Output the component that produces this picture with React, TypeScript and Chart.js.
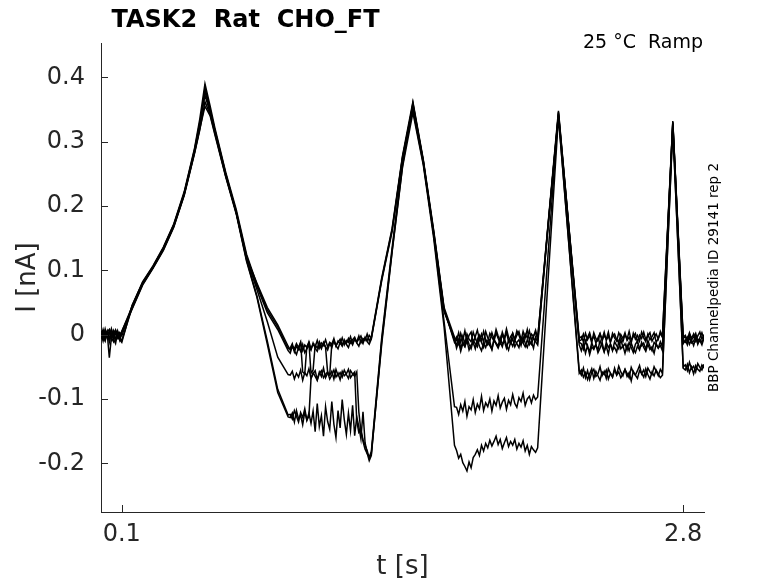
import { useEffect, useRef } from 'react';
import { Chart, registerables } from 'chart.js';

Chart.register(...registerables);

const TITLE = 'TASK2  Rat  CHO_FT';
const CONDITION = '25 °C  Ramp';
const SOURCE = 'BBP Channelpedia ID 29141 rep 2';

const X_TICKS = [0.1, 2.8];
const Y_TICKS = [-0.2, -0.1, 0, 0.1, 0.2, 0.3, 0.4];

// sample times [s]
const T = [
  0, 0.01, 0.02, 0.03, 0.04, 0.05, 0.06, 0.07, 0.08, 0.09, 0.1,
  0.15, 0.2, 0.25, 0.3, 0.35, 0.4, 0.45, 0.475, 0.5,
  0.525, 0.55, 0.6, 0.65, 0.7, 0.75, 0.8, 0.85, 0.9,
  0.91, 0.92, 0.93, 0.94, 0.95, 0.96, 0.97, 0.98, 0.99, 1.0,
  1.01, 1.02, 1.03, 1.04, 1.05, 1.06, 1.07, 1.08, 1.09, 1.1,
  1.11, 1.12, 1.13, 1.14, 1.15, 1.16, 1.17, 1.18, 1.19, 1.2,
  1.21, 1.22, 1.23, 1.24, 1.25, 1.26, 1.27, 1.28, 1.29, 1.3,
  1.35, 1.4, 1.45, 1.5, 1.55, 1.6, 1.65, 1.7,
  1.71, 1.72, 1.73, 1.74, 1.75, 1.76, 1.77, 1.78, 1.79, 1.8,
  1.81, 1.82, 1.83, 1.84, 1.85, 1.86, 1.87, 1.88, 1.89, 1.9,
  1.91, 1.92, 1.93, 1.94, 1.95, 1.96, 1.97, 1.98, 1.99, 2.0,
  2.01, 2.02, 2.03, 2.04, 2.05, 2.06, 2.07, 2.08, 2.09, 2.1,
  2.15, 2.2, 2.25, 2.3,
  2.31, 2.32, 2.33, 2.34, 2.35, 2.36, 2.37, 2.38, 2.39, 2.4,
  2.41, 2.42, 2.43, 2.44, 2.45, 2.46, 2.47, 2.48, 2.49, 2.5,
  2.51, 2.52, 2.53, 2.54, 2.55, 2.56, 2.57, 2.58, 2.59, 2.6,
  2.61, 2.62, 2.63, 2.64, 2.65, 2.66, 2.67, 2.68, 2.69, 2.7,
  2.725, 2.75, 2.775, 2.8,
  2.81, 2.82, 2.83, 2.84, 2.85, 2.86, 2.87, 2.88, 2.89, 2.9,
];

// current [nA], one array per sweep, aligned with T
const REP1 = [
  0.004, -0.006, 0.009, -0.003, 0.006, -0.008, 0.002, 0.007, -0.005, 0.003, -0.002,
  0.045, 0.082, 0.107, 0.136, 0.172, 0.222, 0.29, 0.335, 0.39,
  0.355, 0.318, 0.252, 0.195, 0.125, 0.078, 0.038, 0.012, -0.022,
  -0.021, -0.014, -0.027, -0.018, -0.023, -0.012, -0.025, -0.016, -0.02, -0.011,
  -0.022, -0.015, -0.019, -0.009, -0.021, -0.013, -0.017, -0.008, -0.019, -0.012,
  -0.015, -0.006, -0.018, -0.01, -0.014, -0.005, -0.016, -0.009, -0.012, -0.003,
  -0.014, -0.007, -0.011, -0.002, -0.013, -0.006, -0.009, 0.001, -0.01, -0.004,
  0.088, 0.165, 0.278, 0.362, 0.272, 0.162, 0.042, -0.004,
  -0.009, 0.003, -0.012, -0.002, -0.014, 0.001, -0.007, -0.011, 0.004, -0.006,
  -0.013, -0.001, -0.009, 0.005, -0.008, -0.012, 0.002, -0.004, -0.01, 0.003,
  -0.006, -0.013, 0.0, -0.008, 0.004, -0.011, -0.003, 0.002, -0.009, -0.001,
  0.005, -0.007, -0.012, 0.001, -0.005, 0.006, -0.008, -0.002, 0.003, -0.006,
  0.172, 0.348, 0.168, -0.006,
  -0.003, -0.011, 0.002, -0.008, -0.001, -0.013, 0.003, -0.006, -0.01, 0.001,
  -0.007, 0.004, -0.009, -0.002, -0.012, 0.002, -0.005, -0.01, 0.003, -0.004,
  -0.011, 0.0, -0.007, 0.005, -0.009, -0.003, 0.002, -0.012, -0.001, -0.006,
  0.004, -0.008, -0.002, 0.003, -0.01, -0.004, 0.001, -0.007, 0.005, -0.003,
  0.165, 0.332, 0.165, -0.004,
  -0.001, -0.009, 0.003, -0.006, 0.001, -0.01, -0.002, 0.004, -0.007, 0.0,
];

const REP2 = [
  -0.003, 0.008, -0.005, 0.002, -0.036, -0.004, 0.006, -0.009, 0.004, -0.002, 0.005,
  0.041, 0.078, 0.104, 0.133, 0.169, 0.218, 0.284, 0.322, 0.384,
  0.35, 0.314, 0.249, 0.192, 0.122, 0.075, 0.034, 0.008, -0.025,
  -0.029, -0.018, -0.025, -0.031, -0.02, -0.026, -0.015, -0.028, -0.022, -0.017,
  -0.024, -0.013, -0.021, -0.026, -0.016, -0.022, -0.012, -0.019, -0.024, -0.014,
  -0.02, -0.01, -0.017, -0.022, -0.012, -0.018, -0.008, -0.015, -0.02, -0.01,
  -0.016, -0.006, -0.013, -0.018, -0.008, -0.014, -0.004, -0.011, -0.015, -0.007,
  0.084, 0.16, 0.274, 0.358, 0.268, 0.158, 0.038, -0.009,
  -0.016, -0.007, -0.021, -0.011, -0.018, -0.005, -0.015, -0.022, -0.009, -0.014,
  -0.019, -0.006, -0.012, -0.02, -0.008, -0.016, -0.011, -0.023, -0.007, -0.013,
  -0.018, -0.004, -0.015, -0.01, -0.021, -0.009, -0.014, -0.006, -0.019, -0.012,
  -0.008, -0.017, -0.003, -0.013, -0.02, -0.009, -0.015, -0.005, -0.011, -0.016,
  0.168, 0.344, 0.164, -0.012,
  -0.014, -0.023, -0.01, -0.019, -0.026, -0.013, -0.021, -0.016, -0.024, -0.009,
  -0.018, -0.027, -0.012, -0.02, -0.015, -0.025, -0.011, -0.017, -0.022, -0.008,
  -0.019, -0.014, -0.024, -0.012, -0.02, -0.028, -0.015, -0.01, -0.021, -0.017,
  -0.013, -0.023, -0.009, -0.018, -0.025, -0.012, -0.016, -0.021, -0.011, -0.019,
  0.16, 0.328, 0.16, -0.01,
  -0.012, -0.004, -0.015, -0.008, -0.017, -0.006, -0.013, -0.009, -0.016, -0.005,
];

const REP3 = [
  0.006, -0.002, -0.01, 0.004, 0.008, -0.005, -0.011, 0.003, -0.004, -0.008, -0.012,
  0.046, 0.081, 0.106, 0.135, 0.171, 0.22, 0.288, 0.33, 0.372,
  0.345, 0.312, 0.247, 0.19, 0.12, 0.08, 0.042, 0.015, -0.018,
  -0.024, -0.017, -0.022, -0.014, -0.02, -0.012, -0.058, -0.061, -0.018, -0.013,
  -0.06, -0.055, -0.016, -0.021, -0.011, -0.019, -0.014, -0.02, -0.059, -0.062,
  -0.015, -0.009, -0.017, -0.012, -0.007, -0.016, -0.01, -0.014, -0.006, -0.013,
  -0.008, -0.004, -0.012, -0.007, -0.002, -0.011, -0.005, -0.009, -0.001, -0.006,
  0.086, 0.163, 0.276, 0.355, 0.27, 0.16, 0.04, -0.012,
  -0.004, -0.014, 0.002, -0.009, 0.006, -0.011, -0.001, 0.004, -0.013, -0.003,
  0.007, -0.008, 0.001, -0.012, 0.005, -0.005, -0.01, 0.003, -0.007, 0.008,
  -0.002, -0.011, 0.004, -0.006, 0.009, -0.004, -0.012, 0.002, -0.008, 0.006,
  -0.001, -0.01, 0.005, -0.005, 0.008, -0.009, 0.001, -0.003, 0.007, -0.006,
  0.17, 0.342, 0.166, -0.016,
  -0.025, -0.013, -0.029, -0.017, -0.031, -0.019, -0.023, -0.015, -0.028, -0.021,
  -0.012, -0.026, -0.018, -0.03, -0.014, -0.024, -0.02, -0.027, -0.011, -0.022,
  -0.017, -0.029, -0.016, -0.025, -0.013, -0.022, -0.028, -0.018, -0.024, -0.012,
  -0.02, -0.026, -0.015, -0.023, -0.019, -0.029, -0.014, -0.021, -0.017, -0.025,
  0.158, 0.33, 0.16, -0.014,
  -0.008, -0.016, -0.004, -0.013, -0.01, -0.002, -0.015, -0.007, -0.012, -0.005,
];

const REP4 = [
  -0.007, 0.004, -0.001, 0.006, -0.012, 0.002, -0.006, 0.007, 0.001, -0.009, 0.003,
  0.04, 0.077, 0.103, 0.131, 0.167, 0.216, 0.282, 0.318, 0.362,
  0.342, 0.31, 0.246, 0.19, 0.118, 0.07, 0.02, -0.035, -0.062,
  -0.063, -0.057, -0.069, -0.06, -0.066, -0.055, -0.071, -0.059, -0.064, -0.053,
  -0.068, -0.061, -0.056, -0.07, -0.058, -0.065, -0.052, -0.067, -0.06, -0.063,
  -0.057, -0.069, -0.054, -0.064, -0.059, -0.066, -0.055, -0.062, -0.068, -0.056,
  -0.061, -0.065, -0.058, -0.12, -0.15, -0.166, -0.178, -0.185, -0.19, -0.182,
  -0.005, 0.135, 0.268, 0.35, 0.266, 0.156, 0.036, -0.006,
  -0.021, -0.011, -0.026, -0.014, -0.019, -0.009, -0.024, -0.016, -0.012, -0.022,
  -0.007, -0.018, -0.025, -0.013, -0.02, -0.01, -0.017, -0.023, -0.008, -0.015,
  -0.021, -0.012, -0.019, -0.006, -0.016, -0.024, -0.011, -0.018, -0.009, -0.014,
  -0.02, -0.005, -0.013, -0.019, -0.008, -0.016, -0.011, -0.021, -0.004, -0.012,
  0.168, 0.34, 0.142, -0.056,
  -0.063, -0.052, -0.067, -0.056, -0.07, -0.059, -0.054, -0.065, -0.061, -0.05,
  -0.064, -0.057, -0.068, -0.053, -0.06, -0.066, -0.055, -0.062, -0.049, -0.058,
  -0.064, -0.054, -0.06, -0.067, -0.051, -0.059, -0.063, -0.056, -0.048, -0.061,
  -0.055, -0.065, -0.052, -0.058, -0.062, -0.05, -0.057, -0.064, -0.054, -0.06,
  0.135, 0.325, 0.138, -0.05,
  -0.047, -0.056, -0.043, -0.053, -0.049, -0.058, -0.045, -0.051, -0.055, -0.046,
];

const REP5 = [
  0.002, -0.01, 0.005, -0.004, 0.001, 0.008, -0.007, -0.014, 0.004, -0.003, 0.005,
  0.044, 0.08, 0.105, 0.134, 0.17, 0.219, 0.286, 0.326, 0.378,
  0.348, 0.315, 0.25, 0.19, 0.116, 0.06, -0.01, -0.085, -0.125,
  -0.124, -0.131, -0.118, -0.127, -0.136, -0.121, -0.129, -0.115, -0.133, -0.122,
  -0.138, -0.119, -0.151, -0.107, -0.143, -0.126, -0.158, -0.112, -0.135, -0.147,
  -0.104, -0.139, -0.16, -0.118, -0.145, -0.101, -0.132, -0.155, -0.122, -0.149,
  -0.11, -0.157, -0.128, -0.143, -0.162, -0.12, -0.168, -0.184, -0.196, -0.188,
  -0.01, 0.13, 0.262, 0.36, 0.27, 0.155, 0.02, -0.112,
  -0.113, -0.124, -0.109, -0.119, -0.104, -0.127, -0.112, -0.117, -0.101, -0.121,
  -0.108, -0.115, -0.096, -0.118, -0.106, -0.112, -0.1, -0.119, -0.103, -0.11,
  -0.095, -0.114, -0.105, -0.099, -0.116, -0.102, -0.109, -0.093, -0.107, -0.113,
  -0.098, -0.104, -0.091, -0.11, -0.1, -0.096, -0.106, -0.094, -0.101, -0.097,
  0.125, 0.346, 0.168, -0.01,
  -0.008, 0.001, -0.012, -0.004, 0.003, -0.009, -0.002, -0.013, -0.005, 0.002,
  -0.01, -0.001, -0.007, 0.004, -0.011, -0.003, 0.001, -0.008, -0.012, 0.0,
  -0.006, 0.003, -0.009, -0.004, -0.013, 0.002, -0.007, -0.001, -0.01, 0.004,
  -0.005, -0.011, 0.001, -0.008, -0.003, 0.003, -0.012, -0.006, 0.002, -0.004,
  0.162, 0.33, 0.162, -0.006,
  -0.003, -0.011, 0.001, -0.008, -0.004, 0.002, -0.01, -0.005, 0.003, -0.007,
];

const REP6 = [
  -0.004, 0.005, -0.008, 0.003, -0.006, 0.009, -0.002, -0.007, 0.006, -0.005, -0.009,
  0.042, 0.079, 0.104, 0.132, 0.168, 0.217, 0.283, 0.32, 0.355,
  0.34, 0.308, 0.245, 0.188, 0.114, 0.058, -0.015, -0.09, -0.128,
  -0.129, -0.122, -0.136, -0.118, -0.131, -0.125, -0.14, -0.12, -0.133, -0.127,
  -0.068, -0.059, -0.065, -0.071, -0.061, -0.056, -0.067, -0.062, -0.058, -0.069,
  -0.063, -0.055, -0.066, -0.06, -0.07, -0.057, -0.064, -0.061, -0.054, -0.067,
  -0.062, -0.058, -0.135, -0.152, -0.148, -0.163, -0.172, -0.18, -0.192, -0.186,
  -0.015, 0.128, 0.26, 0.345, 0.264, 0.15, 0.012, -0.172,
  -0.18, -0.192, -0.186, -0.199, -0.205, -0.212, -0.198, -0.207, -0.191, -0.186,
  -0.179, -0.188, -0.172, -0.181, -0.169, -0.176, -0.164, -0.173, -0.166, -0.158,
  -0.171, -0.163, -0.177, -0.168, -0.16, -0.174, -0.166, -0.172, -0.163, -0.178,
  -0.169, -0.175, -0.165, -0.181, -0.172, -0.186, -0.174, -0.179, -0.183, -0.176,
  0.085, 0.338, 0.14, -0.06,
  -0.055, -0.066, -0.059, -0.07, -0.061, -0.053, -0.068, -0.057, -0.064, -0.071,
  -0.058, -0.062, -0.055, -0.069, -0.06, -0.066, -0.052, -0.063, -0.058, -0.067,
  -0.061, -0.054, -0.065, -0.059, -0.072, -0.057, -0.063, -0.068, -0.056, -0.06,
  -0.066, -0.053, -0.062, -0.069, -0.058, -0.064, -0.055, -0.061, -0.067, -0.063,
  0.132, 0.322, 0.135, -0.052,
  -0.055, -0.046, -0.059, -0.05, -0.061, -0.048, -0.054, -0.057, -0.047, -0.052,
];

const SWEEPS = [REP1, REP2, REP3, REP4, REP5, REP6];

const FONT = '"DejaVu Sans", Verdana, sans-serif';
const AXIS_COLOR = '#262626';

// MATLAB-style inward ticks plus the free text around the axes
const decorations = {
  id: 'decorations',
  afterDraw(chart: any) {
    const { ctx, chartArea: a, scales } = chart;
    ctx.save();
    ctx.strokeStyle = AXIS_COLOR;
    ctx.lineWidth = 1;
    ctx.beginPath();
    for (const v of Y_TICKS) {
      const py = Math.round(scales.y.getPixelForValue(v)) + 0.5;
      ctx.moveTo(a.left, py);
      ctx.lineTo(a.left + 7, py);
    }
    for (const v of X_TICKS) {
      const px = Math.round(scales.x.getPixelForValue(v)) + 0.5;
      ctx.moveTo(px, a.bottom);
      ctx.lineTo(px, a.bottom - 7);
    }
    ctx.stroke();

    ctx.fillStyle = '#000';
    ctx.textBaseline = 'alphabetic';
    ctx.font = `bold 24px ${FONT}`;
    ctx.textAlign = 'center';
    ctx.fillText(TITLE, 245.5, 27);

    ctx.font = `19px ${FONT}`;
    ctx.textAlign = 'right';
    ctx.fillText(CONDITION, a.right - 1, 48);

    ctx.font = `13.5px ${FONT}`;
    ctx.textAlign = 'center';
    ctx.translate(718, (a.top + a.bottom) / 2);
    ctx.rotate(-Math.PI / 2);
    ctx.fillText(SOURCE, 0, 0);
    ctx.restore();
  },
};

export default function App() {
  const canvasRef = useRef<HTMLCanvasElement>(null);
  const chartRef = useRef<Chart | null>(null);

  useEffect(() => {
    if (!canvasRef.current) return;
    if (chartRef.current) chartRef.current.destroy();

    chartRef.current = new Chart(canvasRef.current, {
      type: 'line',
      data: {
        datasets: SWEEPS.map((rep, i) => ({
          label: `rep ${i + 1}`,
          data: T.map((t, k) => ({ x: t, y: rep[k] })),
          borderColor: '#000',
          borderWidth: 1.5,
          pointRadius: 0,
          tension: 0,
          fill: false,
        })),
      },
      options: {
        animation: false,
        responsive: true,
        maintainAspectRatio: false,
        events: [],
        layout: { padding: { left: 0, top: 43, right: 74, bottom: 0 } },
        plugins: {
          legend: { display: false },
          title: { display: false },
          tooltip: { enabled: false },
        },
        scales: {
          x: {
            type: 'linear',
            min: 0,
            max: 2.9,
            afterFit: (s: any) => { s.height = 71; },
            afterBuildTicks: (s: any) => { s.ticks = X_TICKS.map((value) => ({ value })); },
            grid: { display: false, drawTicks: false },
            border: { display: true, color: AXIS_COLOR, width: 1 },
            ticks: {
              color: AXIS_COLOR,
              font: { family: FONT, size: 24 },
              padding: 8,
              maxRotation: 0,
              autoSkip: false,
              callback: (v: any) => String(v),
            },
            title: {
              display: true,
              text: 't [s]',
              color: AXIS_COLOR,
              font: { family: FONT, size: 26 },
              padding: { top: 0, bottom: 0 },
            },
          },
          y: {
            min: -0.2757,
            max: 0.4533,
            afterFit: (s: any) => { s.width = 101; },
            afterBuildTicks: (s: any) => { s.ticks = Y_TICKS.map((value) => ({ value })); },
            grid: { display: false, drawTicks: false },
            border: { display: true, color: AXIS_COLOR, width: 1 },
            ticks: {
              color: AXIS_COLOR,
              font: { family: FONT, size: 24 },
              padding: 16,
              callback: (v: any) => String(v),
            },
            title: {
              display: true,
              text: 'I [nA]',
              color: AXIS_COLOR,
              font: { family: FONT, size: 26 },
              padding: { top: 13, bottom: 0 },
            },
          },
        },
      },
      plugins: [decorations],
    });

    return () => {
      if (chartRef.current) {
        chartRef.current.destroy();
        chartRef.current = null;
      }
    };
  }, []);

  return (
    <div style={{ position: 'fixed', left: 0, top: 0, width: 778, height: 583, background: '#fff' }}>
      <canvas ref={canvasRef} />
    </div>
  );
}
